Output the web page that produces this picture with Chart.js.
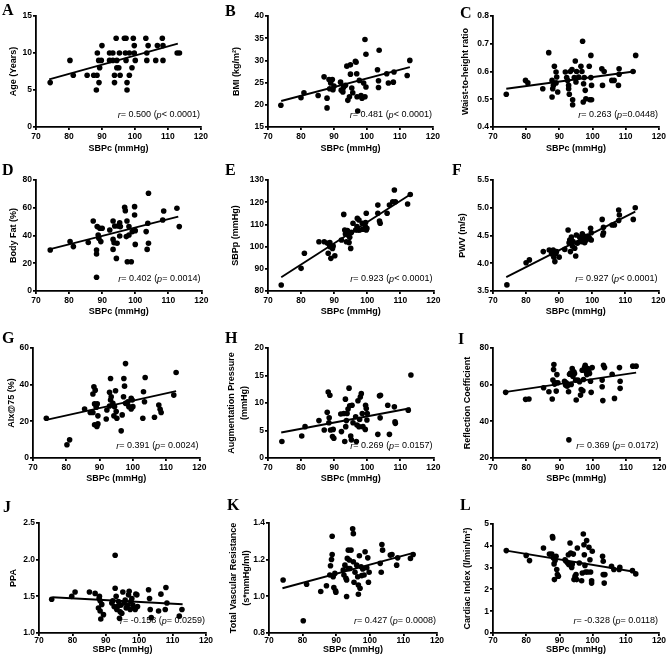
<!DOCTYPE html>
<html>
<head>
<meta charset="utf-8">
<title>SBPc correlations</title>
<script src="https://cdn.jsdelivr.net/npm/chart.js@4.4.0/dist/chart.umd.min.js"></script>
<style>
  html, body { margin: 0; padding: 0; background: #fff; overflow: hidden; }
  #fig { position: relative; width: 668px; height: 665px; }
  #fig canvas { position: absolute; }
  .tag { position: absolute; font: bold 16px "Liberation Serif", "Times New Roman", serif; line-height: 16px; color: #000; }
</style>
</head>
<body>
<div id="fig"></div>
<script>
"use strict";

var ageVsSbpc = [[74.3,6],[80.3,9],[81.3,7],[85.5,7],[87.5,7],[88.5,7],[88.3,5],[88.6,10],[89,9],[89.3,8],[89.8,9],[89.1,6],[90,11],[92.3,9],[92.3,10],[93.3,10],[93.3,9],[93.8,7],[93.8,6],[94.3,12],[94.5,9],[94.5,8],[95.3,10],[95.1,8],[95.5,7],[96.8,12],[97.3,12],[97.1,10],[97.3,9],[97.6,6],[97.6,5],[98.3,10],[98.3,7],[99.1,8],[99.5,12],[99.8,11],[99.8,10],[100.1,9],[103.3,12],[103.6,10],[103.6,9],[104,11],[106.3,9],[106.8,11],[108.3,12],[108.5,11],[108.5,9],[112.8,10],[113.5,10]];
var bmiVsSbpc = [[73.9,19.9],[80,21.6],[80.9,22.7],[85.2,22.1],[87,26.3],[87.9,21.5],[87.9,19.3],[88.5,25.7],[88.7,23.6],[89,24.9],[89.5,25.7],[89.7,23.4],[90,24.2],[92,25.1],[92.2,23.3],[92.7,22.9],[92.9,23.9],[93.5,24.4],[93.9,28.7],[94.2,21],[94.7,21.8],[95,29],[95,26.9],[95.4,23.8],[95.7,22.7],[96.5,29.8],[96.7,29.6],[96.9,27],[97,21.8],[97.2,18.6],[97.7,25.5],[98.2,22.1],[98.5,21.5],[99,24.9],[99.4,34.7],[99.7,31.4],[99.4,21.8],[99.7,24],[103.2,27.9],[103.5,23.9],[103.5,25.4],[103.7,32.3],[106,27],[106.5,24.9],[108,25.1],[108.2,27.4],[112.2,26.6],[113,30]];
var whrVsSbpc = [[74,0.518],[79.8,0.568],[80.5,0.559],[85,0.538],[86.8,0.668],[87.8,0.568],[87.8,0.508],[88,0.538],[88.2,0.55],[88.5,0.619],[89,0.598],[89.2,0.58],[89.5,0.526],[89,0.559],[91.8,0.598],[92.2,0.578],[92.5,0.568],[92.8,0.538],[92.8,0.55],[93,0.518],[93.3,0.6],[93.8,0.607],[94,0.498],[94,0.48],[94.5,0.578],[94.8,0.638],[95,0.562],[95.2,0.6],[95.8,0.58],[96.5,0.619],[96.8,0.6],[97,0.709],[97.2,0.49],[97.3,0.556],[97.5,0.578],[97.8,0.532],[98,0.502],[99,0.619],[99.2,0.498],[99.5,0.658],[99.5,0.578],[99.7,0.55],[99.7,0.498],[102.8,0.61],[103,0.55],[103.5,0.6],[105.8,0.568],[106.5,0.568],[107.8,0.55],[108,0.61],[108,0.59],[112.2,0.6],[113,0.658]];
var fatVsSbpc = [[74.3,29.5],[80.3,35.6],[81.3,32],[85.8,35],[87.3,50.5],[88.3,29.5],[88.3,26.7],[88.3,9.9],[88.5,46.4],[88.8,40.4],[89,38],[89.3,45.2],[89.6,35.6],[90,45.2],[92.3,44],[93.3,50.5],[93.3,37.2],[93.3,30],[93.6,34.8],[93.8,46.8],[94.3,23.5],[94.5,34.4],[94.8,46.8],[95.3,49.2],[95.3,39.6],[95.5,46.4],[96.8,60.3],[97,57.9],[97.3,39.2],[97.5,50.5],[97.6,21.1],[98.1,46.4],[98.1,40.4],[98.8,21.1],[99.1,42.8],[99.8,60.8],[99.8,54.8],[100,43.5],[100,33.6],[103.3,42.8],[103.6,30],[103.8,48.8],[104,70.4],[104,34.4],[108.3,51.2],[108.6,57.7],[112.6,59.6],[113.3,46.4]];
var sbppVsSbpc = [[74,82.7],[80,90.2],[81,97],[85.4,102.2],[87,102.2],[88,101.5],[88.2,97],[88.7,100],[88.7,101.8],[89,94.7],[89.5,99.2],[89.7,100.3],[90.2,95.9],[92.2,103],[92.9,114.5],[93.2,107.5],[93.4,105.7],[93.7,102.2],[94,107.2],[94.2,105.2],[94.5,101.8],[94.7,104.2],[95,99.2],[95.2,106.4],[95.7,110.5],[96.5,107.5],[96.9,109],[97,112.7],[97.2,107.5],[97.5,112],[97.7,107.5],[98.5,110.5],[98.7,107.8],[99.4,109],[99.5,110.8],[99.7,115],[99.7,107.5],[99.9,108.2],[103.2,118.7],[103.2,115],[103.7,111.5],[103.9,110.5],[106,115],[106.7,118.7],[107.7,120.2],[108.2,125.5],[108.5,120.2],[112.2,119.2],[113,123.5]];
var pwvVsSbpc = [[74.2,3.61],[80,4.01],[81,4.06],[85.2,4.21],[87,4.24],[87.7,4.17],[88.2,4.24],[88.4,4.11],[88.7,4.03],[89,4.18],[89.2,4.21],[90,4.11],[91.7,4.25],[92.7,4.6],[93,4.37],[93.2,4.42],[93.4,4.21],[93.7,4.47],[94,4.31],[94.2,4.39],[94.7,4.27],[95,4.13],[95.2,4.51],[95.5,4.36],[96.2,4.47],[96.7,4.39],[97,4.53],[97.2,4.43],[97.5,4.49],[97.7,4.37],[98.2,4.42],[98.7,4.49],[99.2,4.45],[99.5,4.63],[99.7,4.55],[99.7,4.42],[103,4.79],[103.2,4.51],[103.4,4.65],[103.4,4.55],[106,4.69],[106.7,4.69],[108,4.96],[108.2,4.87],[108,4.77],[112.4,4.79],[113,5.0]];
var aixVsSbpc = [[74,21.7],[80.2,7.2],[81,9.9],[85.5,26.7],[87.2,24.8],[88,24.8],[88,34.9],[88.3,38.9],[88.7,37],[88.5,29.5],[88.5,18.1],[89,27.7],[89.2,17.2],[89.5,18.6],[89.3,29.5],[89.5,23],[92,21.3],[92.2,26.2],[93,28.4],[93,35.8],[93.3,43.4],[93.3,31.6],[93.5,33.4],[94,29.8],[94.3,23],[94.5,28],[94.8,36.7],[95,25.3],[95.2,21.7],[96.5,14.8],[96.8,23.5],[97.2,33.4],[97.3,43.4],[97.5,39.2],[97.8,51.5],[97.8,29.8],[98.5,30.7],[98.8,28],[99.5,32.5],[99.5,26.7],[99.8,31.6],[100,28],[103,21.7],[103.2,36.1],[103.5,30.7],[103.7,43.9],[106.5,22.2],[107.8,28.9],[108.2,26.6],[108.5,24.8],[112.3,34.3],[113,46.6]];
var apVsSbpc = [[74.2,3],[80.2,4],[81.2,5.7],[85.4,6.8],[87,5.1],[87.9,8.3],[88.2,12],[88.4,6.4],[88.5,7.3],[88.7,11.4],[88.9,5.1],[89.5,3.9],[89.7,5.2],[89.9,3.6],[92,8],[92.2,4.8],[92.9,8.1],[93.2,3],[93.4,10.7],[93.5,5.7],[93.7,6.8],[93.9,8.1],[94.2,8.9],[94.5,12.7],[94.7,9.5],[95,4],[95.2,3.3],[95.4,9.6],[95.7,6.4],[96.5,7.5],[96.7,3],[96.9,6],[97.2,10.4],[97.5,5.7],[97.7,7],[97.9,11.1],[98.2,11.7],[98.5,8.1],[98.7,5.7],[99.4,5.2],[99.5,9.6],[99.7,9],[99.9,6.9],[100,8.1],[103.2,4.3],[103.7,11.3],[103.9,7.3],[104,11.4],[106.2,9.6],[106.7,4.3],[108.2,9.3],[108.4,6.6],[108.5,6.3],[112.4,8.7],[113.2,15.1]];
var rcVsSbpc = [[73.8,55.8],[79.8,52],[80.8,52.2],[85.2,58.3],[86.8,56.1],[87.8,52.2],[88,62.5],[88.2,68.3],[88.3,71],[88.5,60.3],[88.8,61],[89,56.5],[89.2,65.5],[89.5,61],[91.5,61.9],[91.8,59.8],[92,61],[92.3,59.2],[92.7,56.1],[92.8,29.9],[93,65.7],[93.3,66.4],[93.5,60.1],[93.8,68.8],[94,64.6],[94.3,67],[94.5,66.1],[94.8,62.5],[95,51.6],[95.5,62.5],[96,61.6],[96.3,54.3],[96.5,57.4],[96.8,67.9],[97,56.7],[97.2,62.8],[97.5,69.3],[97.7,70.6],[98,67],[98.2,65.5],[98.5,68.8],[98.8,67.5],[99,66.1],[99.3,61.9],[99.5,55.8],[99.8,69.3],[102.8,62.5],[102.8,58.9],[103,51.3],[103.2,70.6],[103.5,69.3],[105.8,65.7],[106.5,52.5],[108,69.3],[108.2,61.9],[108.2,58],[112,70.1],[113,70.1]];
var ppaVsSbpc = [[73.8,1.46],[79.8,1.5],[80.8,1.56],[85.1,1.56],[86.8,1.54],[87.8,1.34],[88,1.47],[88.1,1.5],[88.3,1.44],[88.3,1.3],[88.5,1.19],[88.8,1.39],[89.3,1.25],[91.8,1.41],[92.1,1.44],[92.5,1.36],[92.8,2.06],[92.8,1.61],[93.1,1.5],[93.3,1.32],[93.5,1.36],[93.8,1.43],[94.1,1.2],[94.3,1.29],[94.5,1.38],[94.8,1.27],[95.1,1.56],[95.5,1.41],[95.8,1.45],[96.1,1.34],[96.5,1.38],[96.8,1.52],[97,1.57],[97.3,1.32],[97.5,1.43],[97.8,1.47],[98.1,1.38],[98.5,1.34],[98.8,1.32],[99,1.53],[99.3,1.52],[99.5,1.36],[102.8,1.59],[103.1,1.47],[103.3,1.32],[103.6,1.21],[105.8,1.3],[106.5,1.53],[108,1.62],[108.3,1.41],[107.8,1.32],[112,1.23],[112.8,1.32]];
var tvrVsSbpc = [[74.2,1.089],[80.2,0.867],[81.2,1.066],[85.4,1.026],[87.1,1.058],[88.1,1.116],[88.3,1.167],[88.6,1.201],[88.8,1.228],[88.8,1.328],[89.1,1.107],[89.3,1.048],[89.6,1.125],[89.8,1.03],[89.9,1.022],[92.1,1.143],[92.3,1.116],[92.6,1.17],[92.9,1.098],[93.1,1.089],[93.1,0.999],[93.3,1.207],[93.6,1.252],[93.6,1.152],[93.9,1.198],[94.1,1.152],[94.4,1.252],[94.9,1.369],[95.1,1.342],[95.1,1.189],[95.3,1.077],[95.6,1.131],[96.1,1.17],[96.4,1.107],[96.6,1.062],[96.6,1.011],[96.9,1.221],[97.1,1.044],[97.4,1.161],[97.6,1.113],[97.9,1.149],[98.3,1.116],[98.6,1.243],[99.1,1.156],[99.4,1.21],[99.6,1.077],[99.8,1.131],[103.1,1.18],[103.4,1.131],[103.6,1.283],[103.8,1.252],[106.1,1.225],[106.6,1.228],[108,1.17],[108.3,1.21],[112.1,1.207],[112.9,1.228]];
var ciVsSbpc = [[74,3.78],[80,3.56],[81,3.32],[85.2,3.9],[87,3.62],[87.7,3.62],[87.9,4.43],[88,4.36],[88.2,3.44],[88.4,3.17],[88.5,2.45],[88.7,3.32],[89,3.52],[89.2,2.91],[89.4,2.68],[89.7,2.6],[91.7,3.36],[92,3.29],[92.5,3.21],[92.7,3.59],[92.9,3.13],[93.2,4.13],[93.4,3.67],[93.7,3.01],[93.9,3.17],[94.2,3.62],[94.4,2.45],[94.7,2.6],[95,2.68],[95.2,2.45],[95.4,3.9],[96,3.21],[96.7,2.4],[96.9,2.75],[97.2,4.54],[97.4,4.05],[97.5,3.59],[97.7,3.1],[97.9,2.8],[98.2,4.24],[98.5,2.8],[98.9,3.93],[99.2,3.36],[99.4,2.8],[99.7,2.4],[99.7,2.29],[99.9,3.75],[103,3.52],[103.2,3.29],[103.2,2.68],[103.5,2.29],[103.7,2.68],[105.7,3.06],[106.4,2.91],[108.2,3.01],[108,2.91],[112,2.86],[113,2.71]];

// regression lines, value at SBPc = 74 and 113
var fitRange = [74, 113];
var fitEnds = [[6.44,11.26],[20.86,28.5],[0.538,0.601],[30.0,53.6],[86.2,123.5],[3.75,4.93],[20.8,36.5],[4.64,9.04],[56.1,66.6],[1.488,1.393],[1.044,1.237],[3.78,2.80]];

var panelLetters = ["A","B","C","D","E","F","G","H","I","J","K","L"];
var yTitles = ["Age (Years)", "BMI (kg/m\u00B2)", "Waist-to-height ratio", "Body Fat (%)", "SBPp (mmHg)", "PWV (m/s)",
  "AIx@75 (%)", ["Augmentation Pressure", "(mmHg)"], "Reflection Coefficient", "PPA",
  ["Total Vascular Resistance", "(s*mmHg/ml)"], "Cardiac Index (l/min/m\u00B2)"];
var yRanges = [[0,15,5],[15,40,5],[0.4,0.8,0.1],[0,80,20],[80,130,10],[3.5,5.5,0.5],[0,60,20],[0,20,5],[20,80,20],[1.0,2.5,0.5],[0.8,1.4,0.2],[0,5,1]];
var yDecimals = [0,0,1,0,0,1,0,0,0,1,1,0];
var rValues = ["0.500","0.481","0.263","0.402","0.923","0.927","0.391","0.269","0.369","-0.158","0.427","-0.328"];
var pValues = ["< 0.0001","< 0.0001","=0.0448","= 0.0014","< 0.0001","< 0.0001","= 0.0024","= 0.0157","= 0.0172","= 0.0259","= 0.0008","= 0.0118"];
var xTicks = [70, 120, 10];
var xTitle = "SBPc (mmHg)";

var datasets = [ageVsSbpc, bmiVsSbpc, whrVsSbpc, fatVsSbpc, sbppVsSbpc, pwvVsSbpc,
  aixVsSbpc, apVsSbpc, rcVsSbpc, ppaVsSbpc, tvrVsSbpc, ciVsSbpc];

// ---- layout (pixels in the 668x665 figure) ----
var colLefts = [0, 222, 446];
// plot box: left, top, width, height
var plotBoxes = [[36,16,166,111],[268,16,166,111],[493,16,167,111],
  [36,180,166,111],[268,180,166,111],[493,180,166,111],
  [33,348,167,110],[268,348,166,110],[493,348,167,110],
  [39,523,167,110],[269,523,168,110],[493,524,166,109]];
var yTitleX = [13.3,236.7,466, 13.3,236,462.7, 11.7,231.7,468, 14,233.3,468];
var tagPos = [[2,2],[225,3],[460,5],[2,162],[225,162],[452,162],[2,330],[225,330],[458,331],[3,499],[227,497],[460,497]];
// per row : axis height, tick padding, title gap below axis
var rowAxis = [[28,2,21.5],[28,1.5,20.7],[28,1.5,20.7],[23,0,16.7]];

var FONT = "'Liberation Sans', Arial, Helvetica, sans-serif";
var PAD_TOP = 8, PAD_RIGHT = 8;

// r= .. (p ..) text, drawn under the points like the original
var statsPlugin = {
  id: "stats",
  beforeDatasetsDraw: function (chart, args, opts) {
    var ctx = chart.ctx;
    var area = chart.chartArea;
    var parts = [["r", true], ["= " + opts.r + " (", false], ["p", true], [opts.p + ")", false]];
    var size = 9;
    ctx.save();
    ctx.fillStyle = "#000";
    ctx.textBaseline = "middle";
    var total = 0;
    parts.forEach(function (pt) {
      ctx.font = (pt[1] ? "italic " : "") + size + "px " + FONT;
      total += ctx.measureText(pt[0]).width;
    });
    var x = area.right - 1 - total;
    var y = area.bottom - 12;
    parts.forEach(function (pt) {
      ctx.font = (pt[1] ? "italic " : "") + size + "px " + FONT;
      ctx.fillText(pt[0], x, y);
      x += ctx.measureText(pt[0]).width;
    });
    ctx.restore();
  }
};

function makePanel(i) {
  var fig = document.getElementById("fig");
  var col = i % 3, row = Math.floor(i / 3);
  var box = plotBoxes[i];
  var colLeft = colLefts[col];
  var axis = rowAxis[row];
  var yw = box[0] - colLeft;
  var xh = axis[0];

  var cv = document.createElement("canvas");
  cv.width = yw + box[2] + PAD_RIGHT;
  cv.height = PAD_TOP + box[3] + xh;
  cv.style.left = colLeft + "px";
  cv.style.top = (box[1] - PAD_TOP) + "px";
  fig.appendChild(cv);

  var tag = document.createElement("div");
  tag.className = "tag";
  tag.textContent = panelLetters[i];
  tag.style.left = tagPos[i][0] + "px";
  tag.style.top = tagPos[i][1] + "px";
  fig.appendChild(tag);

  var twoLines = Array.isArray(yTitles[i]);
  var yLh = twoLines ? 1.45 : 1.2;
  var yTitlePad = yTitleX[i] - colLeft - 9 * yLh / 2;
  var xTitlePad = xh - axis[2] - 9 * 1.2 / 2;
  var yr = yRanges[i];
  var dec = yDecimals[i];

  var points = datasets[i].map(function (d) { return { x: d[0], y: d[1] }; });
  var fit = [{ x: fitRange[0], y: fitEnds[i][0] }, { x: fitRange[1], y: fitEnds[i][1] }];

  var axisCommon = {
    grid: { drawOnChartArea: false, drawTicks: true, tickLength: 3, lineWidth: 1.8, color: "#000" },
    border: { display: true, color: "#000", width: 1.8 }
  };

  new Chart(cv, {
    type: "scatter",
    data: {
      datasets: [
        { data: points, backgroundColor: "#000", borderWidth: 0, pointRadius: 2.8, pointHoverRadius: 2.8 },
        { type: "line", data: fit, borderColor: "#000", borderWidth: 1.9, pointRadius: 0, fill: false }
      ]
    },
    options: {
      responsive: false,
      animation: false,
      events: [],
      layout: { padding: { top: PAD_TOP, right: PAD_RIGHT, left: 0, bottom: 0 } },
      plugins: {
        legend: { display: false },
        tooltip: { enabled: false },
        stats: { r: rValues[i], p: pValues[i] }
      },
      scales: {
        x: Object.assign({}, axisCommon, {
          type: "linear",
          min: xTicks[0], max: xTicks[1],
          ticks: {
            stepSize: xTicks[2], autoSkip: false, maxRotation: 0, padding: axis[1], color: "#000",
            font: { family: FONT, size: 8.5, weight: "bold" }
          },
          title: {
            display: true, text: xTitle, color: "#000",
            font: { family: FONT, size: 9, weight: "bold", lineHeight: 1.2 },
            padding: { top: 0, bottom: xTitlePad }
          },
          afterFit: function (scale) { scale.height = xh; }
        }),
        y: Object.assign({}, axisCommon, {
          type: "linear",
          min: yr[0], max: yr[1],
          ticks: {
            stepSize: yr[2], autoSkip: false, padding: 1, color: "#000",
            font: { family: FONT, size: 8.5, weight: "bold" },
            callback: function (v) { return Number(v).toFixed(dec); }
          },
          title: {
            display: true, text: yTitles[i], color: "#000",
            font: { family: FONT, size: 9, weight: "bold", lineHeight: yLh },
            padding: { top: yTitlePad, bottom: 0 }
          },
          afterFit: function (scale) { scale.width = yw; }
        })
      }
    },
    plugins: [statsPlugin]
  });
}

for (var i = 0; i < datasets.length; i++) {
  makePanel(i);
}
</script>
</body>
</html>
